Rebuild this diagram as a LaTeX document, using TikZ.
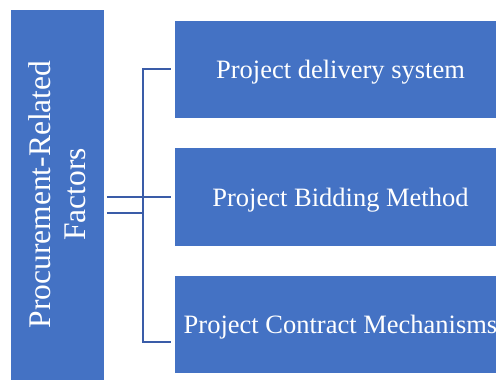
\documentclass[tikz,border=0pt]{standalone}
\usepackage{fontspec}
\setmainfont{Liberation Serif}
\definecolor{boxblue}{HTML}{4472C4}
\definecolor{lineblue}{HTML}{3A5CA8}
\begin{document}
\begin{tikzpicture}[x=1pt,y=-1pt,
  factorbox/.style={fill=boxblue, draw=white, line width=0.6pt, inner sep=0pt,
    minimum width=333pt, minimum height=98pt},
  boxtext/.style={text=white, inner sep=0pt, font=\fontsize{26.5}{30}\selectfont},
  conn/.style={draw=lineblue, line width=2.8pt}]
\useasboundingbox (0,0) rectangle (496,382);
\clip (0,0) rectangle (496,382);
% main category box
\node[fill=boxblue, draw=white, line width=0.6pt, inner sep=0pt,
  minimum width=94pt, minimum height=371pt] (lb) at (57,194.5) {};
\node[rotate=90, text=white, align=center, font=\fontsize{31.5}{35}\selectfont] (lt) at (lb.center)
  {Procurement-Related\\Factors};
% factor boxes
\node[factorbox] (b1) at (340.5,69) {};
\node[factorbox, minimum height=99pt] (b2) at (340.5,197) {};
\node[factorbox] (b3) at (340.5,324) {};
\node[boxtext] (t1) at ([yshift=-3pt]b1.center) {Project delivery system};
\node[boxtext] (t2) at ([yshift=-3pt]b2.center) {Project Bidding Method};
\node[boxtext] (t3) at ([yshift=-3pt]b3.center) {Project Contract Mechanisms};
% bracket connectors
\coordinate (sb) at (143,342);
\coordinate (sm) at (143,213);
\draw[conn] ([xshift=-3pt]b1.west) -| (sb) -- ([xshift=-3pt]b3.west |- sb);
\draw[conn] ([xshift=2.5pt]lb.east |- b2.west) -- ([xshift=-3pt]b2.west);
\draw[conn] ([xshift=2.5pt]lb.east |- sm) -- (sm);
\end{tikzpicture}
\end{document}
